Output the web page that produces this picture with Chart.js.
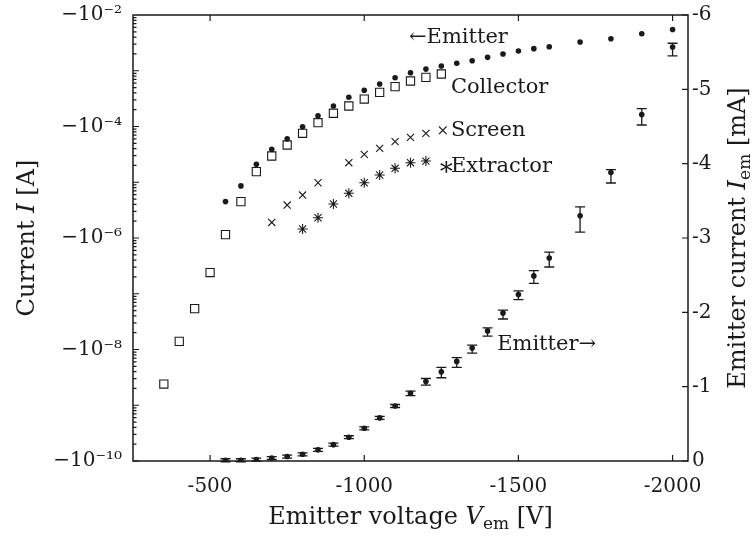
<!DOCTYPE html>
<html>
<head>
<meta charset="utf-8">
<script src="https://cdn.jsdelivr.net/npm/chart.js@4.4.0/dist/chart.umd.min.js"></script>
<style>
  html, body { margin: 0; padding: 0; background: #fff; }
  #wrap { width: 753px; height: 538px; }
</style>
</head>
<body>
<div id="wrap"><canvas id="chart" width="753" height="538"></canvas></div>
<script>
// Values. Voltages in V, currents in A (left axis) or mA (right axis)
const xTicks = [-500, -1000, -1500, -2000];
const yTicksLog = [1e-2, 1e-4, 1e-6, 1e-8, 1e-10];
const yTicksLin = [0, -1, -2, -3, -4, -5, -6];

const emitterVolts = [-550, -600, -650, -700, -750, -800, -850, -900, -950, -1000, -1050, -1100, -1150,
    -1200, -1250, -1300, -1350, -1400, -1450, -1500, -1550, -1600, -1700, -1800, -1900, -2000];
const emitterCurrentA = [-4.5e-6, -8.6e-6, -2.1e-5, -3.9e-5, -6.0e-5, -9.9e-5, -1.56e-4, -2.33e-4, -3.34e-4,
    -4.46e-4, -5.8e-4, -7.5e-4, -9.2e-4, -1.07e-3, -1.22e-3, -1.36e-3, -1.51e-3, -1.74e-3, -2.0e-3,
    -2.26e-3, -2.49e-3, -2.7e-3, -3.28e-3, -3.76e-3, -4.6e-3, -5.5e-3];
const emitterCurrentMA = [-0.01, -0.01, -0.02, -0.04, -0.06, -0.09, -0.15, -0.22, -0.32, -0.44, -0.58, -0.74,
    -0.91, -1.07, -1.20, -1.34, -1.52, -1.75, -1.99, -2.24, -2.49, -2.73, -3.30, -3.88, -4.66, -5.57];
const emitterErrUp = [0.02, 0.02, 0.02, 0.02, 0.02, 0.02, 0.02, 0.02, 0.02, 0.02, 0.02, 0.02, 0.03,
    0.04, 0.06, 0.05, 0.04, 0.04, 0.04, 0.05, 0.07, 0.08, 0.12, 0.04, 0.08, 0.05];
const emitterErrDown = [0.02, 0.02, 0.02, 0.02, 0.02, 0.02, 0.02, 0.02, 0.02, 0.02, 0.02, 0.02, 0.03,
    0.05, 0.08, 0.08, 0.07, 0.07, 0.08, 0.07, 0.10, 0.12, 0.22, 0.14, 0.14, 0.12];

const collectorVolts = [-350, -400, -450, -500, -550, -600, -650, -700, -750, -800, -850, -900, -950,
    -1000, -1050, -1100, -1150, -1200, -1250];
const collectorCurrentA = [-2.4e-9, -1.4e-8, -5.4e-8, -2.4e-7, -1.15e-6, -4.5e-6, -1.55e-5, -2.96e-5,
    -4.66e-5, -7.55e-5, -1.17e-4, -1.73e-4, -2.33e-4, -3.11e-4, -4.1e-4, -5.2e-4, -6.55e-4, -7.6e-4, -8.75e-4];

const screenVolts = [-700, -750, -800, -850, -900, -950, -1000, -1050, -1100, -1150, -1200];
const screenCurrentA = [-1.9e-6, -3.9e-6, -5.9e-6, -9.8e-6, null, -2.24e-5, -3.17e-5, -4.06e-5,
    -5.35e-5, -6.4e-5, -7.55e-5];

const extractorVolts = [-800, -850, -900, -950, -1000, -1050, -1100, -1150, -1200];
const extractorCurrentA = [-1.45e-6, -2.31e-6, -4.07e-6, -6.34e-6, -9.8e-6, -1.35e-5, -1.78e-5,
    -2.24e-5, -2.4e-5];

const SERIF = '"DejaVu Serif", "Liberation Serif", serif';
const INK = '#1a1a1a';

// log axis shows magnitudes of the (negative) currents
function toPoints(xs, ys, fn) {
    const pts = [];
    xs.forEach((x, i) => {
        if (ys[i] !== null) pts.push({ x: x, y: fn ? fn(ys[i]) : ys[i] });
    });
    return pts;
}

const SUP = { '-': '\u207B', '0': '\u2070', '1': '\u00B9', '2': '\u00B2', '3': '\u00B3', '4': '\u2074',
    '5': '\u2075', '6': '\u2076', '7': '\u2077', '8': '\u2078', '9': '\u2079' };
function supText(n) {
    return String(n).split('').map(c => SUP[c]).join('');
}

// no extra room for half-labels at the ends of an axis
function noEndPadding(s) {
    s.paddingTop = 0; s.paddingBottom = 0; s.paddingLeft = 0; s.paddingRight = 0;
}

// inward ticks, frame, error bars and text labels
const framePlugin = {
    id: 'frame',
    beforeDatasetsDraw(chart) {
        const ctx = chart.ctx;
        const y1 = chart.scales.y1;
        const x = chart.scales.x;
        ctx.save();
        ctx.strokeStyle = INK;
        ctx.lineWidth = 1.3;
        emitterVolts.forEach((v, i) => {
            const px = x.getPixelForValue(v);
            const top = y1.getPixelForValue(emitterCurrentMA[i] - emitterErrUp[i]);
            const bot = y1.getPixelForValue(emitterCurrentMA[i] + emitterErrDown[i]);
            ctx.beginPath();
            ctx.moveTo(px, top); ctx.lineTo(px, bot);
            ctx.moveTo(px - 5, top); ctx.lineTo(px + 5, top);
            ctx.moveTo(px - 5, bot); ctx.lineTo(px + 5, bot);
            ctx.stroke();
        });
        ctx.restore();
    },
    afterDraw(chart) {
        const ctx = chart.ctx;
        const a = chart.chartArea;
        const x = chart.scales.x, y = chart.scales.y, y1 = chart.scales.y1;
        ctx.save();
        ctx.strokeStyle = INK;
        ctx.lineWidth = 1.2;
        ctx.beginPath();
        xTicks.forEach(v => {
            const px = x.getPixelForValue(v);
            ctx.moveTo(px, a.bottom); ctx.lineTo(px, a.bottom - 6);
            ctx.moveTo(px, a.top); ctx.lineTo(px, a.top + 6);
        });
        yTicksLin.forEach(v => {
            const py = y1.getPixelForValue(v);
            ctx.moveTo(a.right, py); ctx.lineTo(a.right - 6, py);
        });
        for (let e = -10; e < -2; e++) {
            for (let k = 1; k <= 9; k++) {
                const py = y.getPixelForValue(k * Math.pow(10, e));
                ctx.moveTo(a.left, py); ctx.lineTo(a.left + (k === 1 ? 6 : 3.5), py);
            }
        }
        ctx.stroke();
        ctx.lineWidth = 1.5;
        ctx.strokeRect(a.left, a.top, a.right - a.left, a.bottom - a.top);

        // annotations placed in data coordinates
        ctx.fillStyle = INK;
        ctx.font = '21px ' + SERIF;
        ctx.textBaseline = 'middle';
        ctx.textAlign = 'left';
        ctx.fillText('\u2190Emitter', x.getPixelForValue(-1145), y.getPixelForValue(3.9e-3));
        ctx.fillText('Collector', x.getPixelForValue(-1281), y.getPixelForValue(4.9e-4));
        ctx.fillText('Screen', x.getPixelForValue(-1281), y.getPixelForValue(8.3e-5));
        ctx.fillText('Extractor', x.getPixelForValue(-1281), y.getPixelForValue(1.9e-5));
        ctx.fillText('Emitter\u2192', x.getPixelForValue(-1431), y1.getPixelForValue(-1.56));
        ctx.textAlign = 'center';
        ctx.font = '15px ' + SERIF;
        ctx.fillText('\u00D7', x.getPixelForValue(-1255), y.getPixelForValue(8.3e-5));
        ctx.font = '26px ' + SERIF;
        ctx.fillText('\u2217', x.getPixelForValue(-1266), y.getPixelForValue(1.8e-5));

        // axis titles with italic symbols and subscripts
        drawTitle(ctx, [['Emitter voltage ', 'n'], ['V', 'i'], ['em', 's'], [' [V]', 'n']],
            (a.left + a.right) / 2, 524, 0);
        drawTitle(ctx, [['Current ', 'n'], ['I', 'i'], [' [A]', 'n']], 34, (a.top + a.bottom) / 2, -Math.PI / 2);
        drawTitle(ctx, [['Emitter current ', 'n'], ['I', 'i'], ['em', 's'], [' [mA]', 'n']],
            745, (a.top + a.bottom) / 2, -Math.PI / 2);
        ctx.restore();
    }
};

function drawTitle(ctx, parts, cx, cy, rot) {
    const fonts = { n: '24px ' + SERIF, i: 'italic 24px ' + SERIF, s: '17px ' + SERIF };
    let w = 0;
    parts.forEach(p => { ctx.font = fonts[p[1]]; w += ctx.measureText(p[0]).width; });
    ctx.save();
    ctx.translate(cx, cy);
    ctx.rotate(rot);
    ctx.textBaseline = 'alphabetic';
    ctx.textAlign = 'left';
    let px = -w / 2;
    parts.forEach(p => {
        ctx.font = fonts[p[1]];
        ctx.fillText(p[0], px, p[1] === 's' ? 5 : 0);
        px += ctx.measureText(p[0]).width;
    });
    ctx.restore();
}

const dotStyle = { pointStyle: 'circle', pointRadius: 2.8, backgroundColor: INK, borderColor: INK, borderWidth: 0 };

new Chart(document.getElementById('chart'), {
    type: 'scatter',
    data: {
        datasets: [
            Object.assign({ label: 'Emitter (log)', yAxisID: 'y',
                data: toPoints(emitterVolts, emitterCurrentA, Math.abs) }, dotStyle),
            { label: 'Collector', yAxisID: 'y', data: toPoints(collectorVolts, collectorCurrentA, Math.abs),
                pointStyle: 'rect', pointRadius: 5.8, backgroundColor: '#fff', borderColor: INK, borderWidth: 1.1 },
            { label: 'Screen', yAxisID: 'y', data: toPoints(screenVolts, screenCurrentA, Math.abs),
                pointStyle: 'crossRot', pointRadius: 5, borderColor: INK, borderWidth: 1.1 },
            { label: 'Extractor', yAxisID: 'y', data: toPoints(extractorVolts, extractorCurrentA, Math.abs),
                pointStyle: 'star', pointRadius: 5, borderColor: INK, borderWidth: 1.1 },
            Object.assign({ label: 'Emitter (mA)', yAxisID: 'y1',
                data: toPoints(emitterVolts, emitterCurrentMA) }, dotStyle)
        ]
    },
    options: {
        responsive: false,
        animation: false,
        devicePixelRatio: 1,
        layout: { padding: { top: 15, left: 0, right: 0, bottom: 0 } },
        plugins: { legend: { display: false }, tooltip: { enabled: false } },
        scales: {
            x: {
                type: 'linear', reverse: true, min: -2050, max: -250,
                grid: { display: false, drawTicks: false }, border: { display: false },
                afterBuildTicks: s => { s.ticks = xTicks.map(v => ({ value: v })); },
                afterFit: s => { s.height = 77; noEndPadding(s); },
                ticks: { color: INK, font: { family: SERIF, size: 20 }, padding: 14, maxRotation: 0,
                    callback: v => String(v) }
            },
            y: {
                type: 'logarithmic', position: 'left', min: 1e-10, max: 1e-2,
                grid: { display: false, drawTicks: false }, border: { display: false },
                afterBuildTicks: s => { s.ticks = yTicksLog.map(v => ({ value: v })); },
                afterFit: s => { s.width = 133; noEndPadding(s); },
                ticks: { color: INK, font: { family: SERIF, size: 20 }, padding: 11,
                    callback: v => '\u221210' + supText(Math.round(Math.log10(v))) }
            },
            y1: {
                type: 'linear', position: 'right', reverse: true, min: -6, max: 0,
                grid: { display: false, drawTicks: false }, border: { display: false },
                afterBuildTicks: s => { s.ticks = yTicksLin.map(v => ({ value: v })); },
                afterFit: s => { s.width = 65; noEndPadding(s); },
                ticks: { color: INK, font: { family: SERIF, size: 20 }, padding: 4,
                    callback: v => String(v) }
            }
        }
    },
    plugins: [framePlugin]
});
</script>
</body>
</html>
